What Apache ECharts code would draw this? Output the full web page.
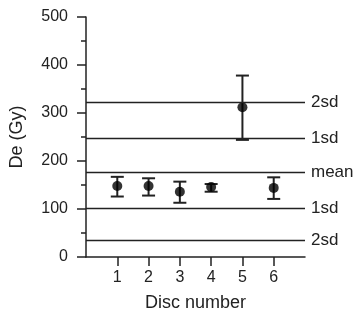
<!DOCTYPE html>
<html>
<head>
<meta charset="utf-8">
<script src="https://cdn.jsdelivr.net/npm/echarts@6/dist/echarts.min.js"></script>
<style>
  html, body { margin: 0; padding: 0; background: #fff; }
  #chart { width: 358px; height: 321px; }
</style>
</head>
<body>
<div id="chart"></div>
<script>
// disc data
var discs = [1, 2, 3, 4, 5, 6];
var de = [148, 148, 136, 146, 312, 144];
var errLow = [126, 128, 113, 136, 244, 121];
var errHigh = [167, 164, 157, 152, 378, 166];

// reference lines (mean and +/- sd)
var refValues = [322, 248, 176, 101, 35];
var refLabels = ['2sd', '1sd', 'mean', '1sd', '2sd'];

var yTicks = [0, 100, 200, 300, 400, 500];

var ink = '#222';
var font = 'Liberation Sans, Arial, sans-serif';

var chart = echarts.init(document.getElementById('chart'));

var points = discs.map(function (d, i) { return [d, de[i]]; });
var bars = discs.map(function (d, i) { return [d, errLow[i], errHigh[i]]; });

var option = {
  animation: false,
  textStyle: { fontFamily: font },
  grid: { left: 85, right: 53, top: 17, bottom: 64 },
  xAxis: {
    type: 'value',
    min: 0,
    max: 7,
    interval: 1,
    name: 'Disc number',
    nameLocation: 'middle',
    nameGap: 37,
    nameTextStyle: { color: ink, fontSize: 18, fontFamily: font },
    axisLine: { lineStyle: { color: ink, width: 1.5 } },
    axisTick: { show: true, length: 9, customValues: discs, lineStyle: { color: ink, width: 1.5 } },
    axisLabel: { color: ink, fontSize: 16, margin: 13, customValues: discs },
    splitLine: { show: false }
  },
  yAxis: {
    type: 'value',
    min: 0,
    max: 500,
    interval: 100,
    name: 'De (Gy)',
    nameLocation: 'middle',
    nameGap: 60,
    nameRotate: 90,
    nameTextStyle: { color: ink, fontSize: 18, fontFamily: font },
    axisLine: { show: true, lineStyle: { color: ink, width: 1.5 } },
    axisTick: { show: true, length: 9, lineStyle: { color: ink, width: 1.5 } },
    minorTick: { show: true, splitNumber: 2, length: 5, lineStyle: { color: ink, width: 1.5 } },
    axisLabel: { color: ink, fontSize: 16, margin: 18, customValues: yTicks },
    splitLine: { show: false }
  },
  series: [
    {
      type: 'custom',
      data: bars,
      renderItem: function (params, api) {
        var x = api.value(0);
        var lo = api.coord([x, api.value(1)]);
        var hi = api.coord([x, api.value(2)]);
        var half = 6.5;
        var style = { stroke: ink, lineWidth: 2 };
        return {
          type: 'group',
          children: [
            { type: 'line', shape: { x1: lo[0], y1: lo[1], x2: hi[0], y2: hi[1] }, style: style },
            { type: 'line', shape: { x1: lo[0] - half, y1: lo[1], x2: lo[0] + half, y2: lo[1] }, style: style },
            { type: 'line', shape: { x1: hi[0] - half, y1: hi[1], x2: hi[0] + half, y2: hi[1] }, style: style }
          ]
        };
      },
      z: 3
    },
    {
      type: 'scatter',
      data: points,
      symbol: 'circle',
      symbolSize: 10,
      itemStyle: { color: '#000' },
      z: 4,
      markLine: {
        silent: true,
        symbol: ['none', 'none'],
        lineStyle: { color: ink, width: 1.4, type: 'solid' },
        label: {
          show: true,
          position: 'end',
          distance: 6,
          color: ink,
          fontSize: 17,
          fontFamily: font,
          formatter: function (p) { return p.name; }
        },
        data: refValues.map(function (v, i) { return { name: refLabels[i], yAxis: v }; })
      }
    }
  ]
};

chart.setOption(option);
</script>
</body>
</html>
